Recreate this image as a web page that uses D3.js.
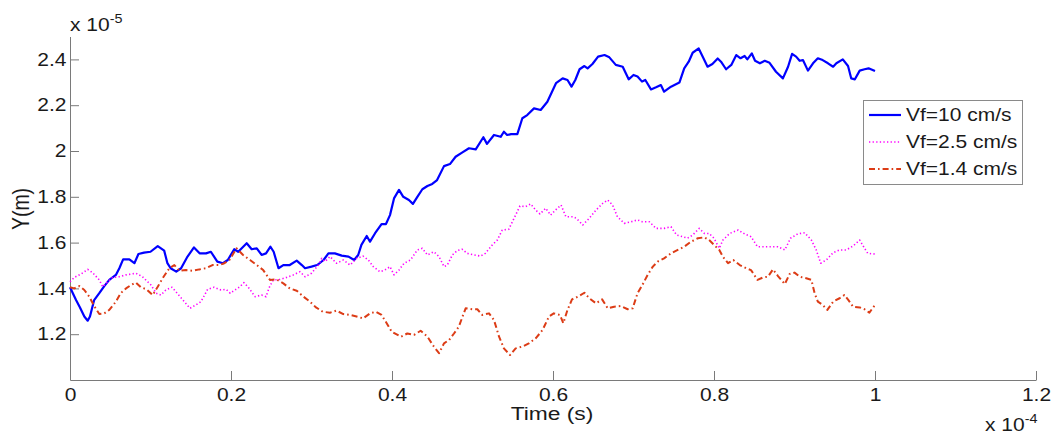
<!DOCTYPE html>
<html>
<head>
<meta charset="utf-8">
<script src="https://cdn.jsdelivr.net/npm/d3@7/dist/d3.min.js"></script>
<style>
  html, body { margin: 0; padding: 0; background: #ffffff; }
  svg { display: block; }
</style>
</head>
<body>
<svg id="chart" width="1054" height="435"></svg>
<script>
// ---- Data (time in units of 1e-4 s, Y in units of 1e-5 m) ----
const seriesNames = ["Vf=10 cm/s", "Vf=2.5 cm/s", "Vf=1.4 cm/s"];

const tBlue = [0,0.0075,0.0124,0.0178,0.022,0.0248,0.030,0.0364,0.0426,0.0488,0.057,0.0613,0.066,0.0737,0.08,0.085,0.092,0.1,0.109,0.117,0.121,0.125,0.132,0.138,0.146,0.154,0.161,0.169,0.175,0.183,0.19,0.196,0.204,0.209,0.2195,0.2257,0.232,0.238,0.2435,0.249,0.253,0.259,0.265,0.273,0.2816,0.288,0.292,0.300,0.307,0.315,0.321,0.329,0.3375,0.346,0.353,0.358,0.362,0.3686,0.3727,0.379,0.387,0.3925,0.3975,0.4025,0.4087,0.414,0.421,0.426,0.4315,0.4377,0.444,0.450,0.456,0.4646,0.472,0.479,0.487,0.4956,0.504,0.5135,0.518,0.5267,0.535,0.539,0.543,0.548,0.5557,0.5619,0.568,0.5764,0.5847,0.593,0.6037,0.612,0.618,0.623,0.6277,0.633,0.639,0.643,0.649,0.656,0.664,0.67,0.678,0.6866,0.694,0.70,0.705,0.7106,0.7147,0.7217,0.728,0.734,0.738,0.7466,0.757,0.763,0.7686,0.7735,0.781,0.786,0.792,0.798,0.8046,0.8087,0.815,0.8215,0.8277,0.833,0.838,0.8414,0.847,0.851,0.857,0.863,0.869,0.877,0.8856,0.892,0.897,0.902,0.9064,0.9105,0.9167,0.923,0.929,0.935,0.9416,0.948,0.952,0.960,0.9665,0.9705,0.975,0.981,0.987,0.992,1.0];
const yBlue = [1.405,1.349,1.317,1.277,1.259,1.277,1.349,1.379,1.41,1.437,1.459,1.488,1.527,1.527,1.51,1.55,1.556,1.56,1.585,1.565,1.51,1.488,1.473,1.488,1.539,1.579,1.553,1.553,1.56,1.517,1.51,1.524,1.571,1.56,1.597,1.571,1.575,1.546,1.553,1.582,1.56,1.488,1.502,1.502,1.521,1.502,1.488,1.495,1.502,1.524,1.553,1.553,1.543,1.539,1.524,1.546,1.59,1.629,1.604,1.641,1.681,1.681,1.72,1.793,1.83,1.80,1.786,1.769,1.80,1.833,1.847,1.856,1.873,1.934,1.943,1.975,1.993,2.012,2.007,2.06,2.031,2.07,2.062,2.084,2.07,2.074,2.074,2.143,2.157,2.186,2.179,2.215,2.296,2.317,2.31,2.281,2.31,2.357,2.371,2.361,2.38,2.412,2.419,2.409,2.376,2.368,2.313,2.332,2.325,2.303,2.31,2.269,2.278,2.288,2.259,2.281,2.299,2.361,2.39,2.429,2.448,2.412,2.368,2.38,2.404,2.39,2.357,2.376,2.419,2.405,2.415,2.40,2.426,2.394,2.383,2.394,2.385,2.346,2.317,2.368,2.424,2.412,2.394,2.397,2.351,2.383,2.405,2.397,2.383,2.368,2.383,2.40,2.371,2.317,2.313,2.351,2.357,2.361,2.349];

const tMagenta = [0,0.0054,0.0137,0.022,0.028,0.0364,0.0406,0.0468,0.053,0.0613,0.0696,0.082,0.090,0.1006,0.107,0.113,0.119,0.1267,0.1338,0.142,0.149,0.1565,0.1627,0.171,0.179,0.1875,0.194,0.199,0.205,0.211,0.216,0.2215,0.2298,0.238,0.2435,0.2476,0.2525,0.261,0.269,0.2774,0.2857,0.292,0.300,0.3085,0.3127,0.3168,0.323,0.331,0.3395,0.348,0.356,0.364,0.3706,0.3768,0.385,0.391,0.3975,0.4025,0.4087,0.415,0.423,0.4315,0.4377,0.444,0.452,0.4584,0.4646,0.4687,0.475,0.481,0.487,0.4935,0.502,0.51,0.516,0.5246,0.5308,0.537,0.545,0.5515,0.559,0.566,0.5723,0.5785,0.5838,0.591,0.597,0.603,0.61,0.616,0.6245,0.629,0.637,0.645,0.6534,0.662,0.668,0.674,0.68,0.6886,0.697,0.705,0.711,0.7197,0.728,0.738,0.7466,0.7536,0.761,0.767,0.7735,0.7817,0.788,0.794,0.8,0.8066,0.811,0.8195,0.83,0.838,0.846,0.854,0.863,0.871,0.8795,0.888,0.895,0.904,0.9127,0.921,0.927,0.9325,0.9395,0.948,0.956,0.9643,0.9727,0.981,0.987,0.991,1.0];
const yMagenta = [1.429,1.448,1.463,1.483,1.469,1.437,1.407,1.429,1.448,1.451,1.459,1.466,1.451,1.415,1.379,1.371,1.393,1.405,1.376,1.342,1.313,1.328,1.342,1.396,1.405,1.393,1.396,1.379,1.393,1.407,1.425,1.405,1.364,1.371,1.364,1.405,1.437,1.439,1.448,1.459,1.473,1.451,1.466,1.502,1.531,1.517,1.539,1.51,1.524,1.502,1.531,1.541,1.524,1.495,1.473,1.48,1.495,1.459,1.48,1.51,1.524,1.568,1.575,1.546,1.56,1.539,1.495,1.502,1.546,1.565,1.571,1.553,1.546,1.541,1.553,1.59,1.611,1.655,1.658,1.705,1.76,1.757,1.769,1.742,1.725,1.75,1.72,1.742,1.764,1.713,1.713,1.706,1.677,1.706,1.742,1.772,1.786,1.764,1.713,1.684,1.691,1.699,1.691,1.691,1.662,1.662,1.669,1.633,1.626,1.619,1.633,1.662,1.64,1.64,1.619,1.575,1.611,1.64,1.655,1.638,1.626,1.582,1.582,1.582,1.582,1.568,1.619,1.638,1.643,1.611,1.568,1.51,1.524,1.556,1.568,1.568,1.585,1.611,1.575,1.553,1.55];

const tRed = [0,0.0054,0.0116,0.0178,0.024,0.030,0.0364,0.0426,0.0488,0.057,0.063,0.0696,0.0758,0.082,0.088,0.095,0.1027,0.109,0.115,0.1234,0.1296,0.1358,0.144,0.152,0.1606,0.169,0.177,0.1855,0.1917,0.198,0.207,0.215,0.2236,0.232,0.240,0.2484,0.2567,0.265,0.273,0.2816,0.29,0.298,0.3056,0.314,0.323,0.331,0.3395,0.348,0.356,0.364,0.3727,0.380,0.387,0.3934,0.3996,0.411,0.419,0.4273,0.4356,0.444,0.452,0.4584,0.4646,0.471,0.477,0.483,0.4915,0.50,0.506,0.512,0.5205,0.5267,0.533,0.539,0.5466,0.5536,0.562,0.570,0.5785,0.587,0.595,0.601,0.6087,0.6128,0.618,0.6236,0.631,0.639,0.645,0.6534,0.661,0.668,0.676,0.6845,0.6928,0.699,0.705,0.711,0.7176,0.724,0.730,0.738,0.7466,0.755,0.763,0.7714,0.78,0.788,0.794,0.8,0.8066,0.811,0.8174,0.824,0.832,0.84,0.846,0.854,0.861,0.867,0.8733,0.8795,0.888,0.894,0.9,0.9064,0.9146,0.921,0.925,0.929,0.935,0.9408,0.948,0.956,0.962,0.967,0.9727,0.981,0.987,0.993,1.0];
const yRed = [1.405,1.40,1.41,1.393,1.364,1.323,1.288,1.291,1.306,1.342,1.379,1.40,1.415,1.425,1.405,1.396,1.371,1.407,1.444,1.488,1.502,1.477,1.48,1.477,1.483,1.488,1.502,1.502,1.51,1.524,1.575,1.546,1.524,1.502,1.48,1.437,1.439,1.422,1.40,1.39,1.364,1.342,1.317,1.298,1.294,1.303,1.288,1.284,1.277,1.269,1.291,1.298,1.284,1.248,1.211,1.189,1.203,1.197,1.215,1.189,1.146,1.117,1.16,1.175,1.203,1.233,1.313,1.309,1.309,1.284,1.291,1.262,1.189,1.138,1.109,1.138,1.146,1.16,1.182,1.218,1.277,1.291,1.284,1.248,1.306,1.352,1.364,1.381,1.357,1.335,1.352,1.313,1.32,1.323,1.309,1.313,1.379,1.415,1.459,1.495,1.517,1.531,1.553,1.568,1.582,1.604,1.619,1.623,1.611,1.59,1.568,1.539,1.51,1.524,1.502,1.488,1.48,1.437,1.448,1.451,1.483,1.454,1.419,1.463,1.469,1.451,1.444,1.437,1.379,1.342,1.328,1.306,1.342,1.357,1.371,1.349,1.32,1.317,1.309,1.294,1.328];

const xTicks = [0, 0.2, 0.4, 0.6, 0.8, 1, 1.2];
const xTickLabels = ["0", "0.2", "0.4", "0.6", "0.8", "1", "1.2"];
const yTicks = [1.2, 1.4, 1.6, 1.8, 2, 2.2, 2.4];
const yTickLabels = ["1.2", "1.4", "1.6", "1.8", "2", "2.2", "2.4"];

// ---- Layout / style ----
const FONT = "'Liberation Sans', Arial, sans-serif";
const SX = 1.2; // horizontal stretch of the original figure's text
const axisColor = "#7a7a7a";
const textColor = "#1a1a1a";
const styles = [
  { color: "#0000ff", width: 2.2, dash: null },
  { color: "#ff00ff", width: 1.6, dash: "1.3,2.3" },
  { color: "#dc3c16", width: 2.0, dash: "6,3,1.6,3" }
];

const svg = d3.select("#chart");
const x = d3.scaleLinear().domain([0, 1.2]).range([70, 1036]);
const y = d3.scaleLinear().domain([1, 2.5]).range([380, 36.5]);

function stretchText(sel) {
  sel.each(function () {
    const t = d3.select(this);
    const prev = t.attr("transform") || "";
    t.attr("transform", prev + " scale(" + SX + ",1)");
  });
}

// Axes
const xAxis = d3.axisBottom(x).tickValues(xTicks)
  .tickFormat((d, i) => xTickLabels[i]).tickSizeInner(-9).tickSizeOuter(0).tickPadding(9);
const yAxis = d3.axisLeft(y).tickValues(yTicks)
  .tickFormat((d, i) => yTickLabels[i]).tickSizeInner(-9).tickSizeOuter(0).tickPadding(3);

const gx = svg.append("g").attr("transform", "translate(0,380)").call(xAxis);
const gy = svg.append("g").attr("transform", "translate(70,0)").call(yAxis);
[gx, gy].forEach(g => {
  g.attr("font-family", FONT).attr("font-size", 17.5);
  g.selectAll("path.domain").attr("stroke", axisColor).attr("stroke-width", 1);
  g.selectAll(".tick line").attr("stroke", axisColor).attr("stroke-width", 1);
  g.selectAll(".tick text").attr("fill", textColor).call(stretchText);
});

// Series lines
const series = [
  { t: tBlue, v: yBlue },
  { t: tMagenta, v: yMagenta },
  { t: tRed, v: yRed }
];
const line = d3.line().x(d => x(d[0])).y(d => y(d[1]));
series.forEach((s, i) => {
  const pts = s.t.map((tt, k) => [tt, s.v[k]]);
  const p = svg.append("path")
    .attr("d", line(pts))
    .attr("fill", "none")
    .attr("stroke", styles[i].color)
    .attr("stroke-width", styles[i].width)
    .attr("stroke-linejoin", "round");
  if (styles[i].dash) p.attr("stroke-dasharray", styles[i].dash);
});

// Axis labels
svg.append("text")
  .attr("transform", "translate(552,420) scale(" + SX + ",1)")
  .attr("text-anchor", "middle")
  .attr("font-family", FONT).attr("font-size", 19).attr("fill", textColor)
  .text("Time (s)");

svg.append("text")
  .attr("transform", "translate(29,209) scale(" + SX + ",1) rotate(-90)")
  .attr("text-anchor", "middle")
  .attr("font-family", FONT).attr("font-size", 19.5).attr("fill", textColor)
  .text("Y(m)");

// Exponent labels
function expLabel(x0, y0, exp) {
  const t = svg.append("text")
    .attr("transform", "translate(" + x0 + "," + y0 + ") scale(" + SX + ",1)")
    .attr("font-family", FONT).attr("font-size", 17.5).attr("fill", textColor);
  t.append("tspan").text("x 10");
  t.append("tspan").attr("font-size", 12).attr("dy", -8).text(exp);
}
expLabel(70, 31, "-5");
expLabel(985, 431, "-4");

// Legend
const lg = svg.append("g");
lg.append("rect")
  .attr("x", 863.5).attr("y", 100.5).attr("width", 159).attr("height", 84)
  .attr("fill", "#ffffff").attr("stroke", "#8a8a8a").attr("stroke-width", 1);
const legendY = [115, 142, 169];
seriesNames.forEach((name, i) => {
  const l = lg.append("line")
    .attr("x1", 869).attr("x2", 901).attr("y1", legendY[i]).attr("y2", legendY[i])
    .attr("stroke", styles[i].color).attr("stroke-width", styles[i].width);
  if (styles[i].dash) l.attr("stroke-dasharray", styles[i].dash);
  lg.append("text")
    .attr("transform", "translate(906," + (legendY[i] + 6.3) + ") scale(" + SX + ",1)")
    .attr("font-family", FONT).attr("font-size", 17.5).attr("fill", textColor)
    .text(name);
});
</script>
</body>
</html>
